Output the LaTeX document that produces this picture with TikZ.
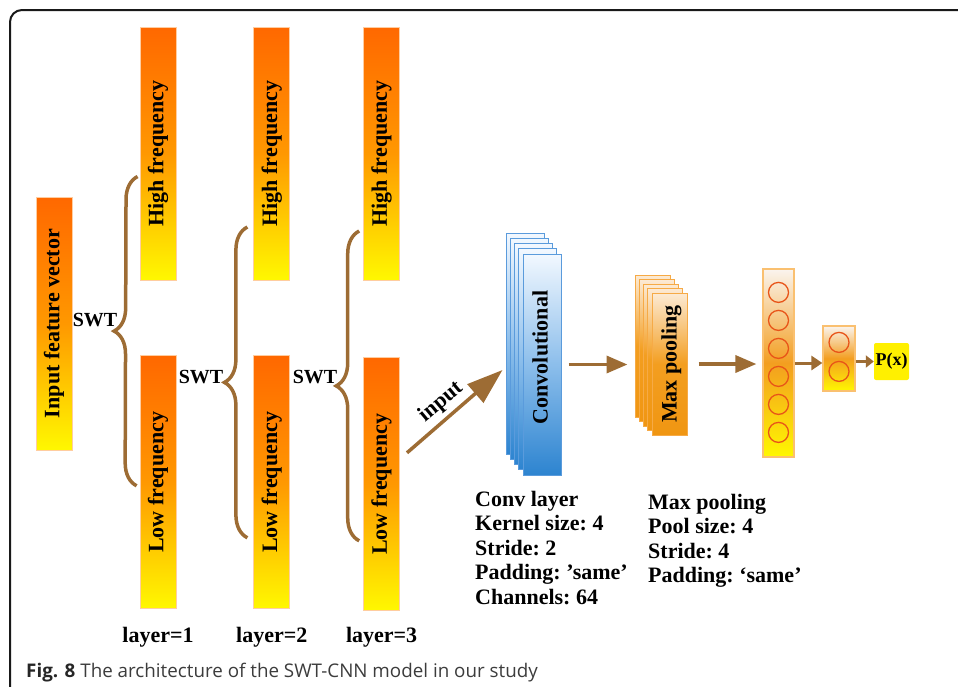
\documentclass[tikz,border=0pt]{standalone}
\usepackage{fontspec}
\setmainfont{Liberation Serif}
\newfontfamily\capfont{Open Sans}
\usetikzlibrary{arrows.meta, positioning, decorations.pathreplacing, calc}

\definecolor{barorange}{RGB}{255,104,0}
\definecolor{barmid}{RGB}{255,152,0}
\definecolor{baryellow}{RGB}{255,248,0}
\definecolor{barline}{RGB}{255,205,160}
\definecolor{swtbrown}{RGB}{157,108,52}
\definecolor{convtop}{RGB}{242,248,255}
\definecolor{convmid}{RGB}{140,190,235}
\definecolor{convblue}{RGB}{45,132,208}
\definecolor{convline}{RGB}{90,155,220}
\definecolor{pooltop}{RGB}{252,234,212}
\definecolor{poolmid}{RGB}{243,158,32}
\definecolor{poolbot}{RGB}{240,150,18}
\definecolor{poolline}{RGB}{246,170,70}
\definecolor{densetop}{RGB}{250,244,238}
\definecolor{denseline}{RGB}{250,192,112}
\definecolor{neuronred}{RGB}{232,84,24}
\definecolor{pxyellow}{RGB}{255,240,0}
\definecolor{capgray}{RGB}{60,60,60}

\begin{document}
\begin{tikzpicture}[
    x=1pt, y=-1pt,
    >=Latex,
    bar/.style={rectangle, draw=barline, line width=0.8pt, top color=barorange, bottom color=baryellow, middle color=barmid, minimum width=36pt, minimum height=253pt, inner sep=0pt},
    bartext/.style={rotate=90, inner sep=0pt, font=\bfseries\fontsize{22}{24}\selectfont},
    lbl/.style={inner sep=0pt, font=\bfseries\fontsize{22}{24}\selectfont},
    swt/.style={inner sep=0pt, font=\bfseries\fontsize{20}{22}\selectfont},
    brace/.style={decorate, decoration={brace, amplitude=23pt}, draw=swtbrown, line width=3.5pt},
    flow/.style={->, draw=swtbrown, line width=3.5pt, -{Triangle[length=21pt, width=17pt]}},
    smallflow/.style={draw=swtbrown, line width=3pt, -{Triangle[length=11pt, width=14pt]}},
    convbox/.style={rectangle, draw=convline, line width=1pt, top color=convtop, bottom color=convblue, middle color=convmid, minimum width=38pt, minimum height=221pt, inner sep=0pt},
    poolbox/.style={rectangle, draw=poolline, line width=1pt, top color=pooltop, bottom color=poolbot, middle color=poolmid, minimum width=35pt, minimum height=142pt, inner sep=0pt},
    dense/.style={rectangle, draw=denseline, line width=1.2pt, top color=densetop, bottom color=baryellow, middle color=poolmid, inner sep=0pt},
    neuron/.style={circle, draw=neuronred, line width=1.3pt, minimum size=20pt, inner sep=0pt},
    info/.style={anchor=north west, align=left, inner sep=0pt, font=\bfseries\fontsize{22}{24.5}\selectfont\frenchspacing}
  ]
    \useasboundingbox (0,0) rectangle (958,686);
    \clip (0,0) rectangle (958,686);
    \draw[line width=2pt, rounded corners=12pt, black!90] (10,700) -- (10,10) -- (975,10);

    % wavelet decomposition
    \node[bar, label={[bartext]center:Input feature vector}] (input) at (54,323.5) {};
    \node[bar, label={[bartext]center:High frequency}] (hf1) at (158,153.5) {};
    \node[bar, label={[bartext]center:Low frequency}, below=75pt of hf1] (lf1) {};
    \node[bar, label={[bartext]center:High frequency}, right=77pt of hf1] (hf2) {};
    \node[bar, label={[bartext]center:Low frequency}, below=75pt of hf2] (lf2) {};
    \node[bar, label={[bartext]center:High frequency}, right=73pt of hf2] (hf3) {};
    \node[bar, label={[bartext]center:Low frequency}, below=77pt of hf3] (lf3) {};

    \draw[brace] ($(lf1.west)+(-3,3.5)$) -- ($(hf1.west)+(-2,23)$);
    \draw[brace] ($(lf2.west)+(-6,55.5)$) -- ($(hf2.west)+(-6,73.5)$);
    \draw[brace] ($(lf3.west)+(-4,56.5)$) -- ($(hf3.west)+(-4,77.5)$);
    \node[swt] (swt1) at (95,320) {SWT};
    \node[swt] (swt2) at (201,377) {SWT};
    \node[swt] (swt3) at (315,377) {SWT};

    \node[lbl, below=18pt of lf1] (layer1) {layer=1};
    \node[lbl, below=18pt of lf2] (layer2) {layer=2};
    \node[lbl, below=16pt of lf3] (layer3) {layer=3};

    % CNN part
    \foreach \i in {0,...,4}
      \node[convbox] (conv\i) at ({525+4.25*\i},{343.5+5.25*\i}) {};
    \node[bartext] (convtxt) at ($(conv4)+(-2,-7)$) {Convolutional};
    \foreach \i in {0,...,4}
      \node[poolbox] (pool\i) at ({652.5+4.25*\i},{346+4.5*\i}) {};
    \node[bartext] (pooltxt) at ($(pool4)+(2,0)$) {Max pooling};

    \node[dense, minimum width=31pt, minimum height=188pt] (dense1) at (778.5,363) {};
    \foreach \k in {0,...,5}
      \node[neuron] (n\k) at ($(dense1.north)+(0,24+28*\k)$) {};
    \node[dense, minimum width=32pt, minimum height=65pt] (dense2) at (839,358.5) {};
    \foreach \k in {0,1}
      \node[neuron] (m\k) at ($(dense2.north)+(0,17+29*\k)$) {};
    \node[rectangle, rounded corners=2pt, fill=pxyellow, minimum width=35pt, minimum height=37pt, inner sep=0pt, font=\bfseries\fontsize{18}{20}\selectfont] (px) at (891.5,361.5) {P(x)};

    \draw[flow, line width=3.5pt, -{Triangle[length=36pt, width=24pt]}] ($(lf3.east)+(7,-31.5)$) -- ($(conv0.west)+(-3,26.5)$);
    \node[bartext, rotate=-50] (inlbl) at (441,402) {input};
    \draw[flow, shorten <=7pt, shorten >=7pt] (conv4.east) -- (pool0.west |- conv4.east);
    \draw[flow, shorten <=11pt, shorten >=6pt] (pool4.east) -- (dense1.west |- pool4.east);
    \draw[smallflow] (dense1.east) -- (dense1.east -| dense2.west);
    \draw[smallflow, -{Triangle[length=8pt, width=12pt]}] (dense2.east |- px) -- (px.west);

    \node[info] (convinfo) at (475,491) {Conv layer\\Kernel size: 4\\Stride: 2\\Padding: 'same'\\Channels: 64};
    \node[info] (poolinfo) at (648,494) {Max pooling\\Pool size: 4\\Stride: 4\\Padding: `same'};

    \node[anchor=base west, inner sep=0pt, text=capgray, font=\capfont\fontsize{18.8}{21}\selectfont] (caption) at (26,677) {\textcolor{black!85}{\bfseries Fig. 8} The architecture of the SWT-CNN model in our study};
\end{tikzpicture}
\end{document}
